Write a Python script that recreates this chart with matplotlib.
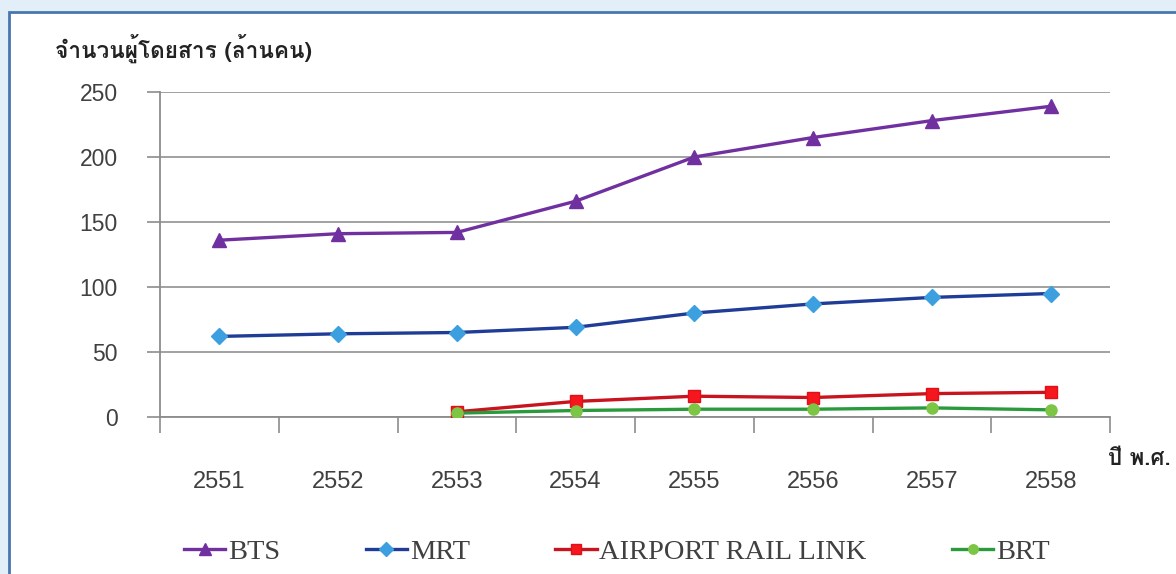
import matplotlib
matplotlib.use("Agg")
import matplotlib.pyplot as plt
from matplotlib import font_manager
from matplotlib.ft2font import FT2Font
from matplotlib.patches import Rectangle
from matplotlib.ticker import FixedLocator, NullFormatter

years = ["2551", "2552", "2553", "2554", "2555", "2556", "2557", "2558"]
bts = [136, 141, 142, 166, 200, 215, 228, 239]
mrt = [62, 64, 65, 69, 80, 87, 92, 95]
arl_years = ["2553", "2554", "2555", "2556", "2557", "2558"]
arl = [4, 12, 16, 15, 18, 19]
brt_years = ["2553", "2554", "2555", "2556", "2557", "2558"]
brt = [3, 5, 6, 6, 7, 5.5]
y_ticks = [0, 50, 100, 150, 200, 250]
y_title = "จำนวนผู้โดยสาร (ล้านคน)"
x_title = "ปี พ.ศ."


def find_thai_font():
    for f in font_manager.fontManager.ttflist:
        try:
            ft = FT2Font(f.fname)
            cm = ft.get_charmap()
            if 0x0E08 in cm and 0x0E19 in cm:
                return f.name
        except Exception:
            pass
    return None


thai = find_thai_font()
thai_family = [thai, "DejaVu Sans"] if thai else ["DejaVu Sans"]

W, H = 1176, 574
fig = plt.figure(figsize=(W / 100, H / 100), dpi=100)
fig.patch.set_facecolor("#E3EFF8")
fig.patches.append(Rectangle((9 / W, -0.1), 1.2, 1 - 12 / H + 0.1,
                             transform=fig.transFigure, facecolor="white",
                             edgecolor="#4A76B0", linewidth=2, zorder=-10))

ax = fig.add_axes([160 / W, 1 - 417 / H, 950 / W, 325 / H])
ax.set_facecolor("none")

xi = {y: i for i, y in enumerate(years)}
ax.plot([xi[y] for y in years], bts, color="#7030A0", lw=2.4, marker="^",
        ms=10, mfc="#7030A0", mec="#7030A0", label="BTS", zorder=5)
ax.plot([xi[y] for y in years], mrt, color="#1F3C96", lw=2.4, marker="D",
        ms=8, mfc="#3C9FE0", mec="#3C9FE0", label="MRT", zorder=5)
ax.plot([xi[y] for y in arl_years], arl, color="#C8141E", lw=2.4, marker="s",
        ms=8.5, mfc="#F5161E", mec="#E01018", label="AIRPORT RAIL LINK", zorder=5)
ax.plot([xi[y] for y in brt_years], brt, color="#2A9A3C", lw=2.4, marker="o",
        ms=8, mfc="#7CC545", mec="#7CC545", label="BRT", zorder=5)

ax.set_xlim(-0.5, len(years) - 0.5)
ax.set_ylim(0, 250)
ax.set_yticks(y_ticks)
ax.set_yticklabels([str(v) for v in y_ticks], fontfamily="Liberation Sans",
                   fontsize=16.5, color="#404040")
ax.set_xticks(range(len(years)))
ax.set_xticklabels(years, fontfamily="Liberation Sans", fontsize=17, color="#404040")
ax.xaxis.set_minor_locator(FixedLocator([i - 0.5 for i in range(len(years) + 1)]))
ax.xaxis.set_minor_formatter(NullFormatter())
ax.tick_params(axis="x", which="major", length=0, pad=39)
ax.tick_params(axis="x", which="minor", length=11.5, width=1.2, color="#8C8C8C",
               direction="out")
ax.tick_params(axis="y", which="major", length=9.4, width=1.2, color="#8C8C8C",
               direction="out", pad=21)

ax.grid(axis="y", color="#9A9A9A", lw=1.3, zorder=1)
ax.set_axisbelow(True)
for s in ["top", "right"]:
    ax.spines[s].set_visible(False)
for s in ["left", "bottom"]:
    ax.spines[s].set_color("#8C8C8C")
    ax.spines[s].set_linewidth(1.3)

fig.text(55 / W, 1 - 48 / H, y_title, family=thai_family, fontsize=16.3,
         fontweight="bold", color="#222222", ha="left", va="center")
fig.text(1108 / W, 1 - 459 / H, x_title, family=thai_family, fontsize=16,
         fontweight="bold", color="#222222", ha="left", va="center")

leg = fig.legend(loc="center", bbox_to_anchor=(617 / W, 1 - 552 / H), ncol=4,
                 frameon=False, prop={"family": "Liberation Serif", "size": 20.5},
                 handlelength=1.45, handletextpad=0.1, columnspacing=3.0,
                 borderaxespad=0, markerscale=0.85)
for t in leg.get_texts():
    t.set_color("#404040")

fig.savefig("out.png", dpi=100, facecolor=fig.get_facecolor())
